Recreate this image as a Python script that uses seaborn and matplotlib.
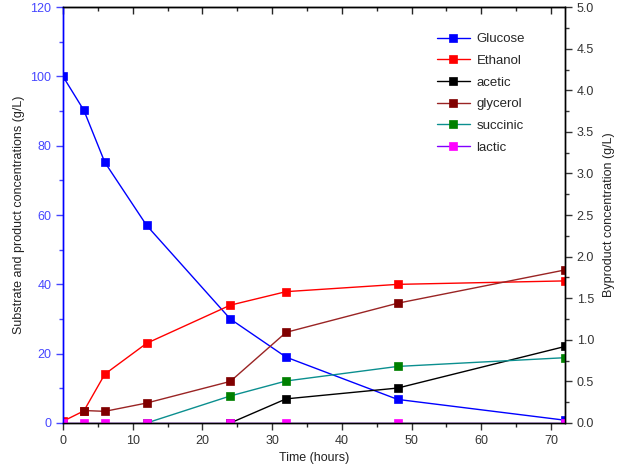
import numpy as np
import pandas as pd
import matplotlib
matplotlib.use('Agg')
import matplotlib.pyplot as plt
from matplotlib.ticker import MultipleLocator
import seaborn as sns

# time points (hours)
time_h = [0, 3, 6, 12, 24, 32, 48, 72]

# left axis (g/L)
glucose = [100, 90.2, 75.2, 57, 30, 19, 6.8, 0.8]
ethanol = [0.5, 3.5, 14.1, 23, 34, 37.9, 40, 41]

# right axis, byproducts (g/L)
acetic = [np.nan, np.nan, np.nan, np.nan, 0, 0.29, 0.42, 0.92]
glycerol = [np.nan, 0.15, 0.14, 0.24, 0.5, 1.09, 1.44, 1.84]
succinic = [np.nan, np.nan, np.nan, 0, 0.325, 0.505, 0.68, 0.785]
lactic = [0, 0, 0, 0, 0, 0, 0, 0]

sns.set_style('ticks')
plt.rcParams['font.family'] = ['Liberation Sans', 'DejaVu Sans']

fig = plt.figure(figsize=(6.25, 4.75), dpi=100)
ax = fig.add_axes([0.1008, 0.1095, 0.8032, 0.8755])
ax2 = ax.twinx()

left_blue = '#4646ff'

def draw(axis, y, name, line_c, mark_c, ms=5.8):
    sns.lineplot(x=time_h, y=y, ax=axis, color=line_c, lw=1.0, marker='s',
                 markersize=ms, markerfacecolor=mark_c, markeredgecolor=mark_c,
                 markeredgewidth=0.5, label=name, legend=False, sort=False,
                 estimator=None)

draw(ax, glucose, 'Glucose', '#0000ff', '#0000ff')
draw(ax, ethanol, 'Ethanol', '#ff0000', '#ff0000')
draw(ax2, acetic, 'acetic', '#000000', '#000000')
draw(ax2, glycerol, 'glycerol', '#9a2424', '#800000')
draw(ax2, succinic, 'succinic', '#0b8f8f', '#008000')
draw(ax2, lactic, 'lactic', '#8000ff', '#ff00ff', ms=5.8)

ax.set_xlim(0, 72)
ax.set_ylim(0, 120)
ax2.set_ylim(0, 5.0)

ax.xaxis.set_major_locator(MultipleLocator(10))
ax.xaxis.set_minor_locator(MultipleLocator(5))
ax.yaxis.set_major_locator(MultipleLocator(20))
ax.yaxis.set_minor_locator(MultipleLocator(10))
ax2.yaxis.set_major_locator(MultipleLocator(0.5))
ax2.yaxis.set_minor_locator(MultipleLocator(0.25))
ax2.yaxis.set_major_formatter(matplotlib.ticker.FormatStrFormatter('%.1f'))

ax.tick_params(axis='x', which='major', direction='out', length=5, width=1, labelsize=9, colors='#333333')
ax.tick_params(axis='x', which='minor', direction='out', length=3, width=1)
ax.tick_params(axis='y', which='major', direction='out', length=5, width=1, labelsize=9,
               color=left_blue, labelcolor=left_blue)
ax.tick_params(axis='y', which='minor', direction='out', length=3, width=1, color=left_blue)
ax2.tick_params(axis='y', which='major', direction='out', length=5, width=1, labelsize=9, colors='#333333')
ax2.tick_params(axis='y', which='minor', direction='out', length=3, width=1, color='#333333')

top = ax.secondary_xaxis('top')
top.xaxis.set_major_locator(MultipleLocator(10))
top.xaxis.set_minor_locator(MultipleLocator(5))
top.tick_params(which='major', direction='in', length=5, width=1, labeltop=False)
top.tick_params(which='minor', direction='in', length=3, width=1)
top.spines['top'].set_color('black')

for a in (ax, ax2):
    for s in a.spines.values():
        s.set_linewidth(1.0)
        s.set_color('black')
    a.spines['top'].set_visible(True)
    a.spines['right'].set_visible(True)
ax2.spines['left'].set_color('#0000ff')
ax.spines['left'].set_color('#0000ff')

ax.set_xlabel('Time (hours)', fontsize=9, color='#222222', labelpad=4)
ax.set_ylabel('Substrate and product concentrations (g/L)', fontsize=9, color='#222222', labelpad=4)
ax2.set_ylabel('Byproduct concentration (g/L)', fontsize=9, color='#222222', labelpad=6)

h1, l1 = ax.get_legend_handles_labels()
h2, l2 = ax2.get_legend_handles_labels()
ax2.legend(h1 + h2, l1 + l2, loc='upper left', bbox_to_anchor=(0.745, 0.938),
           frameon=False, fontsize=9.5, handlelength=2.5, labelspacing=0.72,
           handletextpad=0.5, borderaxespad=0, borderpad=0)

fig.savefig('out.png', dpi=100)
